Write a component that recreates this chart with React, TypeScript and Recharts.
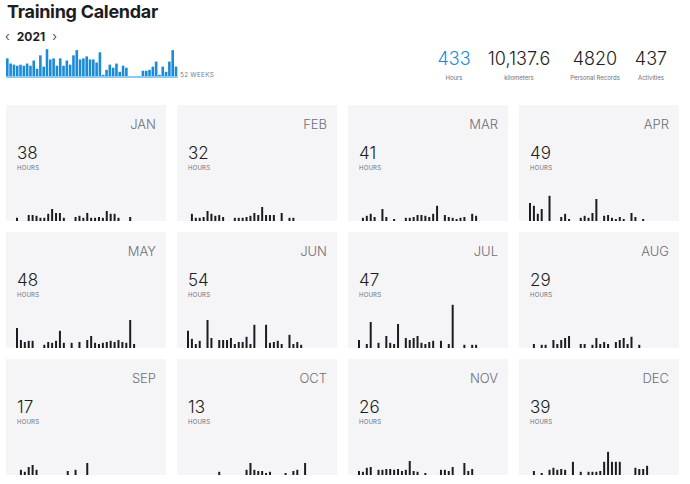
import React from 'react';
import { BarChart, Bar, XAxis, YAxis, ReferenceLine } from 'recharts';

// weekly hours, 52 weeks of 2021
const weeklyHours = [
  12.2, 8.8, 8.1, 7.4, 8.1, 7.4, 8.8, 7.4, 10.8, 5.4, 14.2, 6.8, 18.2,
  11.5, 12.2, 7.4, 12.2, 7.4, 10.8, 8.1, 14.2, 17.6, 11.5, 12.2, 13.5, 11.5,
  11.5, 9.5, 16.2, 1.4, 4.7, 8.1, 6.1, 8.8, 3.4, 7.4, 6.1, 0.3, 0, 0,
  0.7, 4.1, 4.1, 4.7, 6.8, 10.1, 1.4, 6.8, 3.4, 10.1, 17.6, 6.8,
];

const monthNames = ['JAN', 'FEB', 'MAR', 'APR', 'MAY', 'JUN', 'JUL', 'AUG', 'SEP', 'OCT', 'NOV', 'DEC'];
const monthTotals = [38, 32, 41, 49, 48, 54, 47, 29, 17, 13, 26, 39];

// daily hours per month
const jan = [0.8, 0, 0, 1.5, 1.5, 1.3, 0.8, 0.8, 1.8, 3, 2, 2, 0.8, 0, 0, 1, 1.3, 0.8, 2, 0.8, 0.8, 1, 0.8, 2.5, 1.8, 1.8, 0.8, 0, 0, 1, 0];
const feb = [0, 1.8, 0.8, 0.8, 1, 2.5, 1.8, 1.3, 1.5, 1, 0, 0, 0.8, 0.8, 0.8, 1, 1.3, 2, 1.5, 3.5, 1.5, 1.5, 1.5, 0, 2, 0, 0.8, 0.8];
const mar = [0, 0.8, 1.3, 1.8, 1, 0, 3, 1, 0, 0.5, 0, 0, 0.8, 0.8, 1, 1.5, 1.5, 1.3, 1, 1.8, 3.8, 0, 1.5, 1, 0.8, 0.5, 0.8, 1, 0, 1.8, 1.3];
const apr = [4.5, 3.8, 1.8, 3, 0, 6.3, 0, 0, 1, 1.8, 0.5, 0, 0, 0.8, 1.3, 0.8, 2, 5.5, 0, 1.3, 1.5, 0.8, 0.5, 1, 0.5, 0, 2, 1, 0, 0.5];
const may = [5, 2, 1.5, 1.8, 1.8, 0, 0, 0.8, 1.5, 1.3, 1.8, 4.3, 1.3, 0, 1.3, 0, 1.5, 0, 2, 3, 1.3, 1, 1.3, 1.5, 1.8, 1.5, 2, 1.5, 1.3, 7, 1];
const jun = [4.3, 2.3, 1, 1.8, 0, 7, 2.5, 0, 2, 2, 2, 2.5, 1, 1.5, 1.5, 2.8, 1, 5.8, 0, 0, 5.8, 1.3, 1.5, 1.8, 1, 0, 3.3, 1, 1.5, 0.8];
const jul = [2, 0, 1, 6.5, 0, 1.3, 0, 3, 1.3, 1, 6, 0, 2.5, 2, 2.5, 3, 1.3, 1, 1.5, 1.8, 0, 1.8, 0, 1, 10.8, 0, 0, 0.8, 0, 0.8, 0.8];
const aug = [0, 1, 0, 0.8, 0.8, 0, 2, 1, 2, 2.5, 3, 0, 0, 1, 1, 0, 0.8, 2.5, 1, 1.5, 1, 0, 1.5, 2, 2.5, 1, 2.8, 0, 0.8, 0, 0];
const sep = [0, 1.3, 0.8, 2, 2.5, 1.3, 0, 0, 0, 0, 0, 0, 0, 1, 0, 1.3, 0, 0, 3, 0, 0, 0, 0, 0, 0, 0, 0, 0, 0, 0];
const oct = [0, 0, 0, 0, 0, 0, 0, 0, 0.8, 0, 0, 0, 0, 0, 0, 1.3, 3, 1.3, 1, 1, 0.5, 0.8, 0, 0, 0, 0.5, 0, 1, 1.3, 0, 3];
const nov = [1, 0.8, 1.8, 2, 0, 1.3, 1.3, 1.5, 1.5, 1.3, 1.5, 1, 1.3, 3.5, 1, 0.8, 0, 0.5, 0, 0, 0, 1.3, 1.3, 1, 2, 0, 0, 3, 1, 1.5];
const dec = [0, 1, 0, 0.5, 0, 1.3, 1.8, 1.3, 1.5, 1.3, 0, 3.3, 0, 0.8, 0, 0.8, 0.8, 0.8, 1, 3.3, 5.8, 3.3, 3.3, 3.3, 0, 0, 0, 1.8, 1.5, 1.5, 2.3];

const dailyHours = [jan, feb, mar, apr, may, jun, jul, aug, sep, oct, nov, dec];

const statValues = ['433', '10,137.6', '4820', '437'];
const statLabels = ['Hours', 'kilometers', 'Personal Records', 'Activities'];
const statCenters = [454, 519, 595, 651];

const FONT = 'Inter, "Noto Sans", sans-serif';
const BLUE = '#1b8bd6';

const MonthCard: React.FC<{ idx: number }> = ({ idx }) => {
  const days = dailyHours[idx];
  const data = Array.from({ length: 31 }, (_, i) => ({ day: i + 1, h: days[i] ?? 0 }));
  const col = idx % 4;
  const row = Math.floor(idx / 4);
  return (
    <div
      style={{
        position: 'absolute',
        left: 6 + col * 171,
        top: 105 + row * 127,
        width: 160,
        height: 116,
        background: '#f5f5f7',
        overflow: 'hidden',
      }}
    >
      <div style={{ position: 'absolute', right: 10, top: 13, fontSize: 13, lineHeight: '13px', fontWeight: 300, color: '#6e6e78' }}>
        {monthNames[idx]}
      </div>
      <div style={{ position: 'absolute', left: 11, top: 40, fontSize: 17, lineHeight: '17px', fontWeight: 300, color: '#1d1d22' }}>
        {monthTotals[idx]}
      </div>
      <div style={{ position: 'absolute', left: 11, top: 60, fontSize: 6, lineHeight: '6px', color: '#6e6e78', letterSpacing: 0.2 }}>
        HOURS
      </div>
      <div style={{ position: 'absolute', left: 9, bottom: 0 }}>
        <BarChart width={121} height={60} data={data} margin={{ top: 0, right: 0, bottom: 0, left: 0 }}>
          <XAxis dataKey="day" hide />
          <YAxis hide domain={[0, 15]} />
          <Bar dataKey="h" fill="#1c1c20" barSize={2} isAnimationActive={false} />
        </BarChart>
      </div>
    </div>
  );
};

const App: React.FC = () => {
  const weekData = weeklyHours.map((h, i) => ({ week: i + 1, h }));
  return (
    <div style={{ position: 'absolute', left: 0, top: 0, width: 690, height: 484, background: '#fff', fontFamily: FONT }}>
      <div style={{ position: 'absolute', left: 7, top: 1, fontSize: 18, lineHeight: '22px', fontWeight: 700, color: '#1d1d1f', letterSpacing: -0.3 }}>
        Training Calendar
      </div>
      <div style={{ position: 'absolute', left: 5, top: 29, fontSize: 12, lineHeight: '14px', color: '#1d1d1f' }}>
        <span style={{ fontWeight: 300, fontSize: 13 }}>‹</span>
        <span style={{ fontWeight: 700, margin: '0 7px 0 7px' }}>2021</span>
        <span style={{ fontWeight: 300, fontSize: 13 }}>›</span>
      </div>
      <div style={{ position: 'absolute', left: 6, top: 48 }}>
        <BarChart width={172} height={31} data={weekData} margin={{ top: 0, right: 0, bottom: 2, left: 0 }}>
          <XAxis dataKey="week" hide />
          <YAxis hide domain={[0, 19]} />
          <Bar dataKey="h" fill={BLUE} barSize={2.6} isAnimationActive={false} />
          <ReferenceLine y={0} stroke="#8ccaf0" strokeWidth={2} />
        </BarChart>
      </div>
      <div style={{ position: 'absolute', left: 180, top: 72, fontSize: 6.5, lineHeight: '7px', color: '#7c7c84', letterSpacing: 0.2 }}>
        52 WEEKS
      </div>
      {statValues.map((v, i) => (
        <div key={v} style={{ position: 'absolute', left: statCenters[i] - 50, width: 100, top: 48, textAlign: 'center' }}>
          <div style={{ fontSize: 18, lineHeight: '22px', fontWeight: 300, color: i === 0 ? BLUE : '#1d1d22' }}>{v}</div>
          <div style={{ fontSize: 6, lineHeight: '8px', marginTop: 4, color: '#6e6e78' }}>{statLabels[i]}</div>
        </div>
      ))}
      {monthNames.map((_, i) => (
        <MonthCard key={i} idx={i} />
      ))}
    </div>
  );
};

export default App;
